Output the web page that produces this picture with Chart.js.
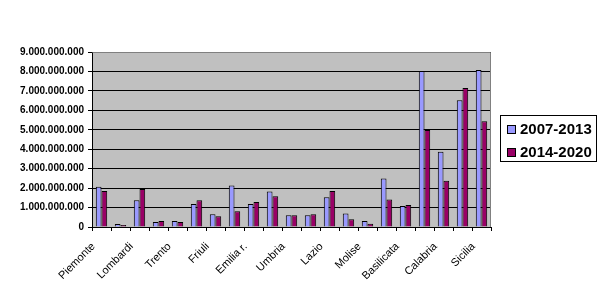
<!DOCTYPE html>
<html>
<head>
<meta charset="utf-8">
<script src="https://cdn.jsdelivr.net/npm/chart.js@4"></script>
<style>
html,body{margin:0;padding:0;background:#fff;}
#wrap{width:616px;height:294px;}
</style>
</head>
<body>
<div id="wrap"><canvas id="c" width="616" height="294"></canvas></div>
<script>
const categories = ["Piemonte","Valle d'Aosta","Lombardi","Bolzano","Trento","Veneto","Friuli","Liguria","Emilia r.","Toscana","Umbria","Marche","Lazio","Abruzzo","Molise","Campania","Basilicata","Puglia","Calabria","Sardegna","Sicilia"];
const seriesNames = ["2007-2013","2014-2020"];
const values2007 = [2070000000,150000000,1370000000,260000000,310000000,1180000000,650000000,2140000000,1180000000,1820000000,600000000,600000000,1530000000,700000000,310000000,2490000000,1080000000,8020000000,3870000000,6520000000,8080000000];
const values2014 = [1850000000,100000000,1950000000,310000000,260000000,1370000000,550000000,810000000,1290000000,1580000000,600000000,650000000,1850000000,400000000,170000000,1420000000,1130000000,4990000000,2380000000,7150000000,5440000000];
const yTicks = [0,1000000000,2000000000,3000000000,4000000000,5000000000,6000000000,7000000000,8000000000,9000000000];

const colors = ['#9999FF','#990066'];
const FONT = 'Arial, "Liberation Sans", sans-serif';

function fmt(v){ return String(v).replace(/\B(?=(\d{3})+(?!\d))/g,'.'); }

const plotBg = {
  id:'plotBg',
  beforeDraw(chart){
    const a = chart.chartArea, ctx = chart.ctx;
    ctx.save();
    ctx.fillStyle = '#C0C0C0';
    ctx.fillRect(a.left, a.top, a.right-a.left, a.bottom-a.top);
    ctx.restore();
  },
  beforeDatasetsDraw(chart){
    const a = chart.chartArea, ctx = chart.ctx;
    ctx.save();
    ctx.strokeStyle = '#808080';
    ctx.lineWidth = 1;
    ctx.beginPath();
    ctx.moveTo(Math.round(a.left)+0.5, Math.round(a.top)+0.5);
    ctx.lineTo(Math.round(a.right)-0.5, Math.round(a.top)+0.5);
    ctx.lineTo(Math.round(a.right)-0.5, Math.round(a.bottom));
    ctx.stroke();
    ctx.restore();
  }
};

const legendBox = {
  id:'legendBox',
  afterDraw(chart){
    const ctx = chart.ctx;
    const x = 500.5, y = 115.5, w = 96, h = 46;
    ctx.save();
    ctx.fillStyle = '#fff';
    ctx.fillRect(x, y, w, h);
    ctx.strokeStyle = '#000';
    ctx.lineWidth = 1;
    ctx.strokeRect(x, y, w, h);
    ctx.font = 'bold 15px ' + FONT;
    ctx.textBaseline = 'middle';
    ctx.textAlign = 'left';
    chart.data.datasets.forEach((ds, i) => {
      const cy = 129 + i*22.5;
      ctx.fillStyle = ds.backgroundColor;
      ctx.fillRect(507.5, Math.round(cy-4)+0.5, 8, 8);
      ctx.strokeStyle = '#000';
      ctx.strokeRect(507.5, Math.round(cy-4)+0.5, 8, 8);
      ctx.fillStyle = '#000';
      ctx.fillText(ds.label, 520, cy+1);
    });
    ctx.restore();
  }
};

new Chart(document.getElementById('c'), {
  type:'bar',
  data:{
    labels: categories,
    datasets:[
      {label: seriesNames[0], data: values2007, backgroundColor: colors[0], borderColor:'#000', borderWidth:1},
      {label: seriesNames[1], data: values2014, backgroundColor: colors[1], borderColor:'#000', borderWidth:1}
    ]
  },
  options:{
    responsive:false,
    animation:false,
    layout:{padding:{top:52,right:125,left:0,bottom:0}},
    plugins:{legend:{display:false},tooltip:{enabled:false}},
    datasets:{bar:{categoryPercentage:0.6,barPercentage:1}},
    scales:{
      x:{
        grid:{drawOnChartArea:false,drawTicks:true,tickLength:4,color:'#000',offset:true},
        border:{display:true,color:'#000',width:1},
        afterFit(s){ s.height = 67; },
        ticks:{
          autoSkip:false,minRotation:45,maxRotation:45,color:'#000',padding:9,labelOffset:-8,
          font:{family:FONT,size:11},
          callback(v,i){ return i%2===0 ? categories[i] : ''; }
        }
      },
      y:{
        min:0,max:9000000000,
        afterBuildTicks(s){ s.ticks = yTicks.map(v=>({value:v})); },
        afterFit(s){ s.width = 92; },
        grid:{color:'#000',tickLength:4,drawTicks:true},
        border:{display:true,color:'#000',width:1},
        ticks:{color:'#000',padding:4,font:{family:FONT,size:10,weight:'bold'},callback:v=>fmt(v)}
      }
    }
  },
  plugins:[plotBg, legendBox]
});
</script>
</body>
</html>
